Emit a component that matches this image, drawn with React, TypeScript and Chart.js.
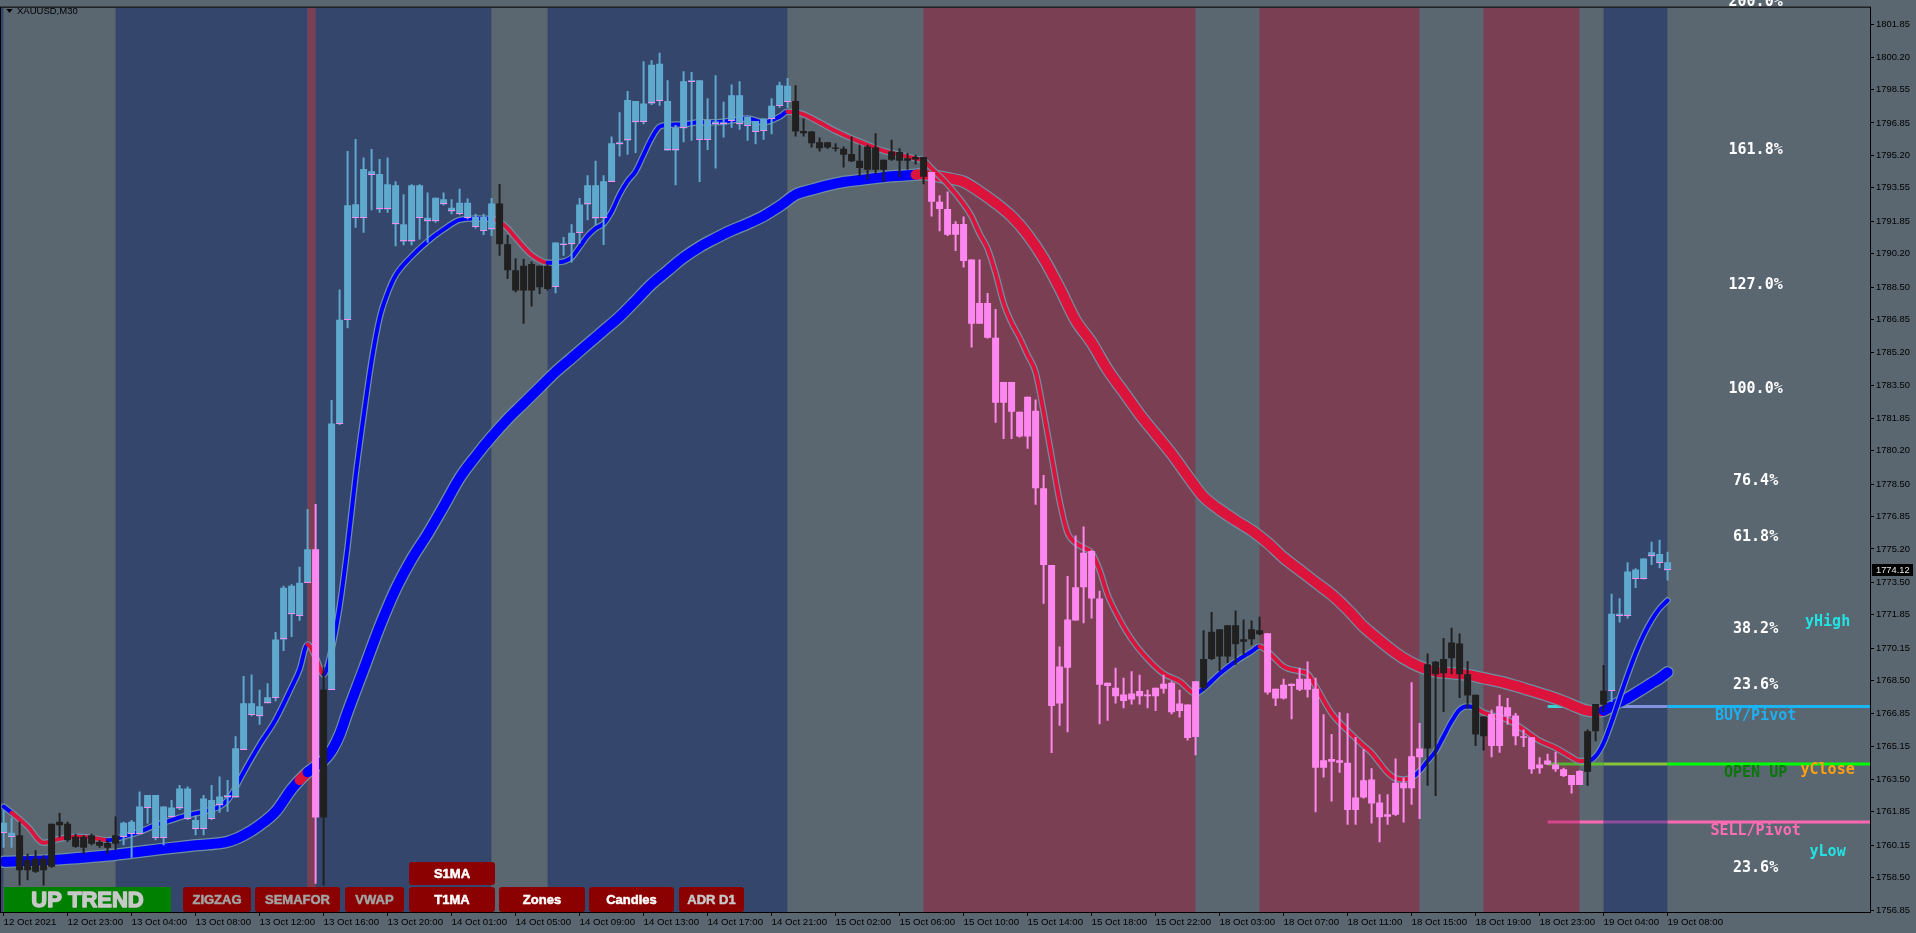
import React, { useEffect, useRef } from "react";
import { Chart, registerables } from "chart.js";

Chart.register(...registerables);

// ---------------- DATA ----------------
const xTickBars = [0, 8, 16, 24, 32, 40, 48, 56, 64, 72, 80, 88, 96, 104, 112, 120, 128, 136, 144, 152, 160, 168, 176, 184, 192, 200, 208];
const xTickLabels = [
  "12 Oct 2021", "12 Oct 23:00", "13 Oct 04:00", "13 Oct 08:00", "13 Oct 12:00", "13 Oct 16:00", "13 Oct 20:00",
  "14 Oct 01:00", "14 Oct 05:00", "14 Oct 09:00", "14 Oct 13:00", "14 Oct 17:00", "14 Oct 21:00",
  "15 Oct 02:00", "15 Oct 06:00", "15 Oct 10:00", "15 Oct 14:00", "15 Oct 18:00", "15 Oct 22:00",
  "18 Oct 03:00", "18 Oct 07:00", "18 Oct 11:00", "18 Oct 15:00", "18 Oct 19:00", "18 Oct 23:00",
  "19 Oct 04:00", "19 Oct 08:00",
];
const yTickValues = [
  1801.85, 1800.2, 1798.55, 1796.85, 1795.2, 1793.55, 1791.85, 1790.2, 1788.5, 1786.85, 1785.2, 1783.5, 1781.85,
  1780.2, 1778.5, 1776.85, 1775.2, 1773.5, 1771.85, 1770.15, 1768.5, 1766.85, 1765.15, 1763.5, 1761.85, 1760.15,
  1758.5, 1756.85,
];

const candleOpen = [
  1760.78, 1760.78, 1760.65, 1758.87, 1759.45, 1758.87, 1759.05, 1761.34, 1761.24, 1760.58,
  1760.02, 1760.65, 1760.32, 1760.02, 1760.22, 1760.58, 1761.34, 1760.73, 1762.06, 1762.69,
  1760.53, 1762.06, 1762.01, 1763.03, 1761.42, 1760.98, 1762.44, 1762.18, 1762.69, 1762.57,
  1764.99, 1767.36, 1766.70, 1767.36, 1767.62, 1770.60, 1773.33, 1771.80, 1773.48, 1775.19,
  1761.55, 1768.05, 1781.57, 1786.85, 1792.72, 1792.03, 1794.40, 1794.25, 1792.46, 1793.69,
  1791.70, 1790.83, 1793.69, 1792.03, 1791.85, 1792.97, 1792.54, 1792.23, 1792.79, 1792.07,
  1791.36, 1792.76, 1792.76, 1790.69, 1789.37, 1788.33, 1789.68, 1788.50, 1789.59, 1788.53,
  1790.72, 1790.69, 1791.27, 1792.71, 1793.68, 1792.03, 1793.85, 1795.77, 1795.96, 1797.96,
  1796.92, 1797.84, 1799.86, 1797.96, 1795.45, 1796.58, 1798.94, 1799.02, 1795.99, 1796.92,
  1796.78, 1796.95, 1798.26, 1796.71, 1796.95, 1796.44, 1797.05, 1797.72, 1798.74, 1797.96,
  1796.44, 1796.41, 1795.87, 1795.60, 1795.60, 1795.54, 1795.27, 1794.93, 1794.47, 1795.60,
  1794.47, 1794.98, 1795.37, 1794.93, 1795.12, 1795.12, 1794.36, 1792.85, 1792.48, 1791.17,
  1791.72, 1789.91, 1786.65, 1787.70, 1785.94, 1782.63, 1783.68, 1782.17, 1780.92, 1782.22,
  1778.28, 1774.38, 1767.35, 1769.16, 1771.57, 1773.25, 1775.09, 1772.68, 1768.23, 1768.15,
  1767.80, 1767.55, 1767.98, 1767.72, 1767.72, 1768.10, 1768.40, 1766.97, 1767.30, 1765.64,
  1768.15, 1769.61, 1771.12, 1769.74, 1771.32, 1770.49, 1770.61, 1771.07, 1770.92, 1768.10,
  1767.60, 1768.23, 1768.05, 1768.60, 1768.10, 1764.08, 1764.38, 1764.46, 1764.33, 1761.94,
  1762.57, 1763.49, 1762.31, 1761.59, 1761.69, 1763.32, 1763.04, 1764.62, 1765.06, 1769.47,
  1768.88, 1769.64, 1770.40, 1768.83, 1767.79, 1765.68, 1766.81, 1765.18, 1767.15, 1766.74,
  1765.68, 1765.63, 1764.05, 1764.25, 1764.25, 1764.00, 1763.71, 1763.21, 1763.88, 1765.93,
  1767.28, 1767.99, 1771.91, 1771.79, 1774.15, 1773.68, 1774.83, 1774.94, 1774.52,
];
const candleHigh = [
  1761.93, 1761.55, 1761.34, 1759.71, 1759.89, 1759.63, 1761.24, 1761.80, 1761.34, 1760.73,
  1760.65, 1760.73, 1760.40, 1760.40, 1761.60, 1761.34, 1761.42, 1762.87, 1762.69, 1762.69,
  1762.11, 1762.44, 1763.20, 1763.13, 1761.67, 1762.69, 1763.20, 1763.64, 1763.46, 1765.68,
  1768.74, 1768.82, 1768.05, 1768.38, 1770.98, 1773.33, 1773.41, 1774.30, 1777.23, 1777.49,
  1769.20, 1782.77, 1788.38, 1795.42, 1796.04, 1795.09, 1795.53, 1795.02, 1795.09, 1793.89,
  1793.23, 1793.74, 1793.74, 1793.31, 1793.05, 1793.31, 1792.97, 1793.51, 1793.01, 1792.23,
  1792.23, 1793.04, 1793.75, 1791.16, 1789.98, 1789.93, 1789.81, 1789.59, 1789.64, 1790.77,
  1791.06, 1791.70, 1793.04, 1794.19, 1794.93, 1794.19, 1796.16, 1797.39, 1798.47, 1797.96,
  1799.98, 1800.03, 1800.42, 1799.02, 1796.75, 1799.48, 1799.44, 1799.02, 1798.10, 1799.27,
  1797.93, 1798.80, 1798.97, 1797.17, 1796.95, 1797.08, 1798.10, 1798.94, 1799.14, 1798.77,
  1797.08, 1796.44, 1796.11, 1795.87, 1795.82, 1795.65, 1796.16, 1795.74, 1795.74, 1796.33,
  1794.98, 1795.99, 1795.57, 1795.32, 1795.24, 1795.12, 1794.36, 1793.18, 1793.36, 1791.85,
  1792.10, 1789.91, 1789.91, 1788.21, 1787.40, 1783.68, 1783.68, 1782.17, 1782.93, 1782.80,
  1778.96, 1774.38, 1770.24, 1773.83, 1775.89, 1776.34, 1775.14, 1773.08, 1768.40, 1769.16,
  1768.65, 1768.98, 1768.81, 1768.05, 1768.15, 1768.81, 1768.48, 1768.05, 1767.30, 1768.48,
  1771.07, 1772.00, 1771.12, 1771.32, 1772.07, 1771.62, 1771.57, 1771.75, 1770.92, 1768.10,
  1768.60, 1768.35, 1769.16, 1769.48, 1768.65, 1766.80, 1765.79, 1766.90, 1766.85, 1765.64,
  1765.04, 1764.05, 1762.73, 1762.73, 1764.55, 1763.58, 1768.43, 1766.35, 1769.89, 1769.50,
  1770.68, 1771.19, 1770.90, 1769.50, 1767.79, 1766.69, 1767.03, 1767.79, 1767.62, 1766.86,
  1766.02, 1765.63, 1764.62, 1764.79, 1764.89, 1764.08, 1763.71, 1763.95, 1766.02, 1767.32,
  1769.30, 1772.92, 1772.70, 1774.52, 1774.22, 1774.72, 1775.57, 1775.67, 1775.06,
];
const candleLow = [
  1760.02, 1760.02, 1758.10, 1758.36, 1758.74, 1758.10, 1759.00, 1760.53, 1760.32, 1760.02,
  1759.71, 1760.14, 1760.02, 1759.71, 1759.89, 1760.14, 1759.51, 1760.73, 1761.24, 1760.40,
  1760.14, 1761.60, 1761.93, 1761.42, 1760.65, 1760.65, 1761.42, 1761.80, 1761.85, 1762.57,
  1764.99, 1766.70, 1766.27, 1767.36, 1767.46, 1770.02, 1770.73, 1771.55, 1773.48, 1758.18,
  1758.10, 1768.05, 1781.50, 1786.42, 1791.52, 1791.27, 1792.41, 1792.29, 1792.29, 1790.58,
  1790.63, 1790.63, 1790.93, 1790.76, 1791.78, 1792.67, 1792.21, 1792.17, 1791.95, 1791.49,
  1791.16, 1791.11, 1790.10, 1788.92, 1788.24, 1786.64, 1787.52, 1788.16, 1788.33, 1788.19,
  1790.10, 1789.76, 1790.72, 1791.90, 1791.66, 1790.65, 1793.85, 1795.15, 1795.23, 1795.32,
  1796.78, 1797.76, 1797.72, 1795.45, 1793.68, 1795.87, 1795.94, 1793.85, 1795.48, 1794.53,
  1796.11, 1796.61, 1796.50, 1795.94, 1795.77, 1795.99, 1796.28, 1797.62, 1797.62, 1796.16,
  1796.16, 1795.60, 1795.40, 1795.54, 1795.40, 1794.59, 1794.86, 1794.14, 1793.97, 1794.26,
  1793.85, 1794.93, 1794.09, 1794.47, 1794.74, 1793.73, 1792.10, 1791.35, 1791.10, 1790.34,
  1789.51, 1785.44, 1786.65, 1785.89, 1781.62, 1780.79, 1780.79, 1780.87, 1780.29, 1777.45,
  1772.42, 1764.83, 1766.22, 1765.89, 1771.57, 1771.42, 1771.67, 1766.29, 1766.47, 1767.35,
  1767.10, 1767.30, 1767.30, 1767.10, 1766.97, 1767.85, 1766.80, 1766.64, 1765.46, 1764.71,
  1767.98, 1769.56, 1768.98, 1769.41, 1769.31, 1769.81, 1770.31, 1770.82, 1767.80, 1767.22,
  1767.55, 1766.54, 1767.98, 1767.65, 1761.82, 1763.58, 1762.37, 1763.83, 1761.19, 1761.19,
  1762.52, 1761.25, 1760.29, 1761.19, 1761.64, 1761.30, 1762.20, 1761.47, 1763.16, 1762.65,
  1766.91, 1768.83, 1767.62, 1767.08, 1765.18, 1764.96, 1764.62, 1764.84, 1766.27, 1765.23,
  1765.13, 1763.78, 1763.78, 1764.22, 1763.88, 1763.61, 1762.77, 1763.21, 1763.16, 1765.43,
  1766.91, 1767.42, 1771.46, 1771.66, 1773.21, 1773.65, 1774.39, 1774.22, 1773.60,
];
const candleClose = [
  1761.29, 1760.58, 1758.87, 1759.38, 1758.79, 1759.45, 1761.24, 1761.16, 1760.40, 1760.07,
  1760.58, 1760.22, 1760.12, 1760.27, 1760.65, 1761.29, 1760.73, 1762.11, 1762.69, 1760.53,
  1762.11, 1761.60, 1763.03, 1761.49, 1760.98, 1762.52, 1761.49, 1762.62, 1762.57, 1765.07,
  1767.36, 1766.78, 1767.21, 1767.67, 1770.60, 1773.23, 1771.88, 1773.48, 1775.19, 1761.55,
  1768.05, 1781.57, 1786.85, 1792.67, 1792.03, 1794.51, 1794.20, 1792.46, 1793.74, 1791.70,
  1790.83, 1793.69, 1792.03, 1791.85, 1793.05, 1792.72, 1792.36, 1792.79, 1792.03, 1791.56,
  1792.07, 1791.44, 1790.69, 1789.37, 1788.33, 1789.59, 1788.33, 1789.59, 1788.41, 1790.77,
  1790.65, 1791.27, 1792.71, 1793.68, 1792.00, 1793.89, 1795.82, 1795.87, 1798.01, 1796.88,
  1797.84, 1799.81, 1797.96, 1795.45, 1796.61, 1798.97, 1799.02, 1795.99, 1797.00, 1796.78,
  1796.88, 1798.26, 1796.78, 1797.17, 1796.41, 1797.08, 1797.72, 1798.77, 1797.93, 1796.41,
  1796.33, 1795.82, 1795.57, 1795.87, 1795.54, 1795.23, 1794.90, 1794.56, 1795.65, 1794.47,
  1794.98, 1795.40, 1794.93, 1795.06, 1794.99, 1794.11, 1792.85, 1792.48, 1791.17, 1791.72,
  1789.84, 1786.65, 1787.70, 1785.94, 1782.63, 1783.68, 1782.17, 1780.92, 1782.93, 1778.28,
  1774.38, 1767.22, 1769.23, 1771.62, 1773.25, 1775.01, 1772.68, 1768.30, 1768.40, 1767.72,
  1767.47, 1767.85, 1767.72, 1767.80, 1768.15, 1768.35, 1766.90, 1767.35, 1765.59, 1768.48,
  1769.61, 1770.99, 1769.74, 1771.32, 1770.36, 1770.61, 1771.12, 1770.87, 1767.90, 1767.60,
  1768.30, 1768.35, 1768.60, 1768.05, 1764.08, 1764.46, 1764.53, 1764.33, 1761.94, 1762.57,
  1763.45, 1762.26, 1761.56, 1761.72, 1763.32, 1763.04, 1764.67, 1765.06, 1769.34, 1768.83,
  1769.61, 1770.45, 1768.83, 1767.75, 1765.77, 1766.69, 1765.18, 1767.20, 1766.69, 1765.68,
  1765.60, 1764.00, 1764.25, 1764.45, 1764.00, 1763.66, 1763.21, 1763.91, 1765.93, 1767.32,
  1767.99, 1771.91, 1771.79, 1774.05, 1773.68, 1774.72, 1775.03, 1774.49, 1774.12,
];
// candle colouring by bar range: b = up (blue), k = flat (black), p = down (pink)
const candleKindRanges: [number, number, string][] = [
  [0, 1, "b"], [2, 14, "k"], [15, 38, "b"], [39, 39, "p"], [40, 40, "k"], [41, 61, "b"], [62, 68, "k"],
  [69, 98, "b"], [99, 115, "k"], [116, 149, "p"], [150, 157, "k"], [158, 177, "p"], [178, 185, "k"],
  [186, 197, "p"], [198, 200, "k"], [201, 208, "b"],
];

// fast moving average (thin)
const fastBars = [
  0, 1, 3, 5, 7, 9, 11, 13, 15, 17, 19, 21, 23, 25, 27, 28, 29, 30, 32, 34, 36, 37, 38, 39, 40, 41, 42, 43, 44, 45,
  46, 47, 48, 49, 51, 53, 55, 57, 59, 61, 62, 63, 64, 65, 66, 67, 68, 69, 70, 71, 72, 73, 74, 75, 76, 77, 78, 79, 80,
  81, 82, 83, 85, 87, 89, 91, 93, 95, 97, 98, 99, 100, 102, 104, 106, 108, 110, 112, 114, 115, 116, 118, 120, 121,
  122, 123, 124, 125, 126, 127, 128, 129, 130, 131, 132, 133, 134, 135, 136, 137, 138, 139, 141, 143, 145, 147, 149,
  150, 152, 154, 156, 157, 158, 160, 162, 163, 164, 166, 168, 170, 171, 172, 173, 174, 175, 176, 177, 178, 179, 180,
  181, 182, 183, 184, 185, 186, 188, 190, 192, 194, 196, 197, 198, 199, 200, 201, 202, 203, 204, 205, 206, 207, 208,
];
const fastVals = [
  1762.10, 1761.80, 1761.10, 1760.27, 1760.47, 1760.58, 1760.53, 1760.40, 1760.58, 1760.83, 1761.16, 1761.42,
  1761.67, 1761.85, 1762.11, 1762.44, 1763.08, 1763.84, 1765.25, 1766.52, 1768.18, 1769.07, 1770.35, 1769.71,
  1768.82, 1770.09, 1772.26, 1775.32, 1778.89, 1781.95, 1784.76, 1786.93, 1788.20, 1789.10, 1790.07, 1790.83,
  1791.44, 1791.92, 1792.00, 1791.98, 1791.83, 1791.49, 1791.02, 1790.55, 1790.15, 1789.88, 1789.74, 1789.76,
  1789.81, 1790.01, 1790.55, 1791.11, 1791.49, 1791.73, 1792.34, 1793.21, 1793.89, 1794.39, 1795.23, 1796.07,
  1796.66, 1796.75, 1796.78, 1796.88, 1796.88, 1796.97, 1797.08, 1796.88, 1797.17, 1797.42, 1797.39, 1797.29,
  1796.88, 1796.44, 1796.07, 1795.74, 1795.43, 1795.23, 1795.04, 1794.94, 1794.54, 1793.73, 1792.73, 1792.10,
  1791.22, 1790.47, 1789.21, 1787.70, 1786.70, 1785.94, 1785.06, 1784.19, 1782.17, 1779.91, 1777.65, 1776.02,
  1775.51, 1775.26, 1775.01, 1774.13, 1772.88, 1772.00, 1770.61, 1769.61, 1768.86, 1768.48, 1767.85, 1768.10,
  1768.86, 1769.48, 1769.99, 1770.24, 1769.99, 1769.23, 1768.98, 1768.86, 1768.23, 1766.85, 1765.97, 1765.20,
  1764.84, 1764.33, 1763.83, 1763.54, 1763.49, 1763.58, 1763.91, 1764.42, 1764.92, 1765.68, 1766.44, 1767.03,
  1767.20, 1767.11, 1766.89, 1766.74, 1766.52, 1766.02, 1765.46, 1765.09, 1764.62, 1764.42, 1764.42, 1764.67,
  1765.34, 1766.41, 1767.62, 1768.80, 1769.89, 1770.82, 1771.58, 1772.17, 1772.59,
];
const fastDownRanges = [[0.6, 13.9], [38, 40.4], [61.4, 68.4], [98, 149.2], [157.4, 176.4], [184.4, 197.6]];

// slow moving average (thick)
const slowBars = [
  0, 4, 8, 12, 16, 20, 24, 28, 30, 32, 34, 36, 37, 38, 39, 40, 41, 42, 43, 45, 47, 49, 51, 53, 55, 57, 59, 61, 63,
  65, 67, 69, 71, 73, 75, 77, 79, 81, 83, 85, 87, 89, 91, 93, 95, 97, 99, 101, 103, 105, 107, 109, 111, 113, 114,
  115, 116, 118, 120, 122, 124, 126, 128, 130, 132, 134, 136, 138, 140, 142, 144, 146, 148, 150, 152, 154, 156,
  158, 160, 162, 164, 166, 168, 170, 171, 173, 175, 177, 179, 181, 183, 185, 187, 189, 191, 193, 195, 197, 198,
  199, 200, 201, 202, 203, 204, 205, 206, 207, 208,
];
const slowVals = [
  1759.30, 1759.35, 1759.45, 1759.58, 1759.76, 1759.96, 1760.14, 1760.32, 1760.65, 1761.16, 1761.85, 1763.00,
  1763.45, 1763.85, 1764.15, 1764.45, 1764.95, 1765.76, 1766.91, 1769.07, 1771.24, 1773.15, 1774.68, 1775.96,
  1777.36, 1778.80, 1779.90, 1780.90, 1781.80, 1782.60, 1783.40, 1784.20, 1784.90, 1785.60, 1786.30, 1787.00,
  1787.82, 1788.66, 1789.34, 1790.01, 1790.55, 1790.99, 1791.39, 1791.73, 1792.12, 1792.62, 1793.21, 1793.46,
  1793.68, 1793.85, 1793.95, 1794.05, 1794.14, 1794.19, 1794.22, 1794.24, 1794.19, 1794.04, 1793.86, 1793.36,
  1792.78, 1792.10, 1791.17, 1789.96, 1788.46, 1786.82, 1785.69, 1784.31, 1783.18, 1782.05, 1781.04, 1780.04,
  1778.91, 1777.85, 1777.20, 1776.65, 1776.14, 1775.51, 1774.76, 1774.13, 1773.50, 1772.88, 1772.12, 1771.25,
  1770.90, 1770.23, 1769.64, 1769.22, 1768.97, 1768.88, 1768.80, 1768.63, 1768.46, 1768.24, 1767.99, 1767.74,
  1767.45, 1767.11, 1766.98, 1766.94, 1766.98, 1767.20, 1767.42, 1767.62, 1767.87, 1768.12, 1768.38, 1768.63,
  1768.93,
];
const slowDownRanges = [[37.2, 38.2], [114.4, 200.2]];

// background trend zones (bar ranges)
const bandFrom = [-2, 0, 14, 38, 39, 61, 68, 98, 115, 149, 157, 177, 185, 197, 200, 208];
const bandTo = [0, 14, 38, 39, 61, 68, 98, 115, 149, 157, 177, 185, 197, 200, 208, 240];
const bandKind = ["up", "flat", "up", "down", "up", "flat", "up", "flat", "down", "flat", "down", "flat", "down", "flat", "up", "flat"];

// pivot lines
const pivotBreaks = [193, 197, 200, 208, 233.3];
const buyPivot = 1767.19;
const openLevel = 1764.27;
const sellPivot = 1761.33;
const buyColors = ["#3ccfd2", "#19b5f5", "#8091de", "#19b5f5"];
const openColors = ["#54b432", "#5cc030", "#88c43a", "#00ff00"];
const sellColors = ["#d4458e", "#ff69b4", "#8e4c9d", "#ff69b4"];

// fibonacci levels
const fibLow = 1763.62;
const fibHigh = 1783.31;
const fibLevels = [200, 161.8, 127, 100, 76.4, 61.8, 38.2, 23.6, -23.6];
const fibLabels = ["200.0%", "161.8%", "127.0%", "100.0%", "76.4%", "61.8%", "38.2%", "23.6%", "23.6%"];

// text markers
const markerTexts = ["yHigh", "BUY/Pivot", "OPEN UP", "yClose", "SELL/Pivot", "yLow"];
const markerPrices = [1771.5, 1766.7, 1763.82, 1763.97, 1760.84, 1759.78];
const markerBars = [228, 219, 219, 228, 219, 228];
const markerColors = ["#22e3e3", "#1eb0f0", "#0a760a", "#ffa010", "#ff6db6", "#22e3e3"];

const buttonLabels = ["UP TREND", "ZIGZAG", "SEMAFOR", "VWAP", "S1MA", "T1MA", "Zones", "Candles", "ADR D1"];

// ---------------- STYLE ----------------
const GRAY = "#5a6670";
const BAND_COLORS: Record<string, string> = { up: "#34466b", down: "#7a3f52", flat: "#5a6670" };
const CANDLE_COLORS: Record<string, string> = { b: "#5fa8ce", k: "#202020", p: "#ff88f0" };
const MA_BLUE = "#0000ff";
const MA_RED = "#dc143c";
const MA_EDGE = "#6f8ea3";
const SANS = "'Liberation Sans', Arial, sans-serif";
const MONO = "'DejaVu Sans Mono', monospace";

const inRanges = (ranges: number[][], v: number) => ranges.some(([a, b]) => v >= a && v <= b);

export default function App() {
  const ref = useRef<HTMLCanvasElement>(null);

  useEffect(() => {
    document.body.style.margin = "0";
    const canvas = ref.current!;
    const idx = candleOpen.map((_, i) => i);
    const kinds = idx.map((i) => {
      const r = candleKindRanges.find(([a, b]) => i >= a && i <= b);
      return r ? r[2] : "k";
    });
    const cColors = kinds.map((k) => CANDLE_COLORS[k]);

    const pivotDataset = (level: number, colors: string[]) => ({
      type: "line" as const,
      data: pivotBreaks.map((b) => ({ x: b, y: level })),
      borderWidth: 3,
      borderColor: colors[0],
      segment: { borderColor: (c: any) => colors[c.p0DataIndex] },
      pointRadius: 0,
      order: 7,
    });

    const plugin = {
      id: "mt4",
      beforeDraw(chart: any) {
        const { ctx, width, height } = chart;
        ctx.save();
        ctx.fillStyle = GRAY;
        ctx.fillRect(0, 0, width, height);
        ctx.restore();
      },
      beforeDatasetsDraw(chart: any) {
        const { ctx, chartArea: a } = chart;
        const xs = chart.scales.x;
        ctx.save();
        ctx.beginPath();
        ctx.rect(a.left, a.top, a.right - a.left, a.bottom - a.top);
        ctx.clip();
        bandFrom.forEach((f, i) => {
          const x0 = xs.getPixelForValue(f);
          const x1 = xs.getPixelForValue(bandTo[i]);
          ctx.fillStyle = BAND_COLORS[bandKind[i]];
          ctx.fillRect(x0, a.top, x1 - x0, a.bottom - a.top);
        });
        ctx.restore();
      },
      afterDatasetsDraw(chart: any) {
        const { ctx, chartArea: a } = chart;
        const xs = chart.scales.x;
        const ys = chart.scales.y;
        ctx.save();
        // pink open marks on blue candles
        ctx.fillStyle = "#ff88f0";
        idx.forEach((i) => {
          if (kinds[i] !== "b") return;
          const lo = Math.min(candleOpen[i], candleClose[i]);
          const px = xs.getPixelForValue(i);
          const py = Math.round(ys.getPixelForValue(lo));
          ctx.fillRect(px - 3.5, py - 1, 7, 1);
        });
        // fib labels
        ctx.font = `bold 15px ${MONO}`;
        ctx.textAlign = "center";
        ctx.textBaseline = "middle";
        ctx.fillStyle = "#ffffff";
        fibLevels.forEach((lv, i) => {
          const price = fibLow + (lv / 100) * (fibHigh - fibLow);
          ctx.fillText(fibLabels[i], xs.getPixelForValue(219), ys.getPixelForValue(price));
        });
        markerTexts.forEach((t, i) => {
          ctx.fillStyle = markerColors[i];
          ctx.fillText(t, xs.getPixelForValue(markerBars[i]), ys.getPixelForValue(markerPrices[i]));
        });
        // frame
        ctx.strokeStyle = "#000";
        ctx.lineWidth = 1;
        ctx.strokeRect(a.left - 0.5, a.top - 0.5, a.right - a.left + 1, a.bottom - a.top + 1);
        ctx.restore();
      },
      afterDraw(chart: any) {
        const { ctx } = chart;
        const ys = chart.scales.y;
        ctx.save();
        // symbol caption
        ctx.fillStyle = "#000";
        ctx.beginPath();
        ctx.moveTo(6.5, 9);
        ctx.lineTo(12.5, 9);
        ctx.lineTo(9.5, 13);
        ctx.closePath();
        ctx.fill();
        ctx.font = `9.5px ${SANS}`;
        ctx.textAlign = "left";
        ctx.textBaseline = "middle";
        ctx.fillText("XAUUSD,M30", 17, 11.5);
        // current price box
        const last = candleClose[candleClose.length - 1];
        const py = Math.round(ys.getPixelForValue(last));
        ctx.fillStyle = "#000";
        ctx.fillRect(1872, py - 6, 41, 12);
        ctx.fillStyle = "#e6e6e6";
        ctx.font = `9.3px ${SANS}`;
        ctx.fillText(last.toFixed(2), 1876, py + 0.5);
        // buttons
        const boxes = [
          [4, 171, 887, 912, "#008000", "#c8c8c8", 22],
          [183, 251, 887, 912, "#8b0000", "#a3a3a3", 13],
          [255, 340, 887, 912, "#8b0000", "#a3a3a3", 13],
          [345, 404, 887, 912, "#8b0000", "#a3a3a3", 13],
          [409, 495, 862, 885, "#8b0000", "#ffffff", 13],
          [409, 495, 887, 912, "#8b0000", "#ffffff", 13],
          [499, 585, 887, 912, "#8b0000", "#ffffff", 13],
          [589, 674, 887, 912, "#8b0000", "#ffffff", 13],
          [679, 744, 887, 912, "#8b0000", "#c8c8c8", 13],
        ] as [number, number, number, number, string, string, number][];
        boxes.forEach(([x0, x1, y0, y1, bg, fg, size], i) => {
          ctx.fillStyle = bg;
          ctx.beginPath();
          (ctx as any).roundRect(x0, y0, x1 - x0, y1 - y0, i === 0 ? 0 : 3);
          ctx.fill();
          ctx.fillStyle = fg;
          ctx.strokeStyle = fg;
          ctx.lineWidth = i === 0 ? 1.4 : 0.5;
          ctx.lineJoin = "round";
          ctx.font = `bold ${size}px ${SANS}`;
          ctx.textAlign = "center";
          ctx.textBaseline = "middle";
          const tx = (x0 + x1) / 2;
          const ty = (y0 + y1) / 2 + 1;
          ctx.fillText(buttonLabels[i], tx, ty);
          ctx.strokeText(buttonLabels[i], tx, ty);
        });
        ctx.restore();
      },
    };

    const chart = new Chart(canvas, {
      type: "bar",
      data: {
        datasets: [
          {
            type: "bar",
            data: idx.map((i) => ({ x: i, y: [candleOpen[i], candleClose[i]] })) as any,
            backgroundColor: cColors,
            barThickness: 7,
            minBarLength: 1,
            grouped: false,
            borderWidth: 0,
            inflateAmount: 0,
            order: 1,
          } as any,
          {
            type: "bar",
            data: idx.map((i) => ({ x: i, y: [candleLow[i], candleHigh[i]] })) as any,
            backgroundColor: cColors,
            barThickness: 2,
            grouped: false,
            borderWidth: 0,
            inflateAmount: 0,
            order: 2,
          } as any,
          {
            type: "line",
            data: fastBars.map((b, i) => ({ x: b, y: fastVals[i] })),
            borderWidth: 4,
            borderColor: MA_BLUE,
            segment: {
              borderColor: (c: any) => (inRanges(fastDownRanges, (c.p0.parsed.x + c.p1.parsed.x) / 2) ? MA_RED : MA_BLUE),
            },
            pointRadius: 0,
            cubicInterpolationMode: "monotone",
            borderCapStyle: "round",
            borderJoinStyle: "round",
            order: 3,
          } as any,
          {
            type: "line",
            data: fastBars.map((b, i) => ({ x: b, y: fastVals[i] })),
            borderWidth: 6.5,
            borderColor: MA_EDGE,
            pointRadius: 0,
            cubicInterpolationMode: "monotone",
            borderCapStyle: "round",
            borderJoinStyle: "round",
            order: 4,
          } as any,
          {
            type: "line",
            data: slowBars.map((b, i) => ({ x: b, y: slowVals[i] })),
            borderWidth: 10,
            borderColor: MA_BLUE,
            segment: {
              borderColor: (c: any) => (inRanges(slowDownRanges, (c.p0.parsed.x + c.p1.parsed.x) / 2) ? MA_RED : MA_BLUE),
            },
            pointRadius: 0,
            cubicInterpolationMode: "monotone",
            borderCapStyle: "round",
            borderJoinStyle: "round",
            order: 5,
          } as any,
          {
            type: "line",
            data: slowBars.map((b, i) => ({ x: b, y: slowVals[i] })),
            borderWidth: 12.5,
            borderColor: MA_EDGE,
            pointRadius: 0,
            cubicInterpolationMode: "monotone",
            borderCapStyle: "round",
            borderJoinStyle: "round",
            order: 6,
          } as any,
          pivotDataset(buyPivot, buyColors) as any,
          pivotDataset(openLevel, openColors) as any,
          pivotDataset(sellPivot, sellColors) as any,
        ],
      },
      options: {
        animation: false,
        responsive: false,
        maintainAspectRatio: false,
        devicePixelRatio: 1,
        events: [],
        layout: { padding: { left: 1, top: 2, right: 0, bottom: 0 } },
        plugins: { legend: { display: false }, tooltip: { enabled: false } },
        scales: {
          x: {
            type: "linear",
            position: "bottom",
            min: -0.325,
            max: 233.3,
            offset: false,
            afterFit: (s: any) => {
              s.height = 21;
            },
            afterBuildTicks: (s: any) => {
              s.ticks = xTickBars.map((v) => ({ value: v }));
            },
            ticks: {
              autoSkip: false,
              maxRotation: 0,
              minRotation: 0,
              align: "start",
              padding: 1,
              color: "#000",
              font: { family: SANS, size: 9.7 },
              callback: (v: any) => {
                const k = xTickBars.indexOf(Number(v));
                return k >= 0 ? xTickLabels[k] : "";
              },
            },
            grid: { drawOnChartArea: false, drawTicks: true, tickLength: 4, color: "#000", offset: false },
            border: { display: true, color: "#000" },
          } as any,
          y: {
            type: "linear",
            position: "right",
            min: 1756.75,
            max: 1802.71,
            afterFit: (s: any) => {
              s.width = 46;
            },
            afterBuildTicks: (s: any) => {
              s.ticks = yTickValues.map((v) => ({ value: v }));
            },
            ticks: {
              padding: 2,
              color: "#000",
              font: { family: SANS, size: 9.4 },
              callback: (v: any) => Number(v).toFixed(2),
            },
            grid: { drawOnChartArea: false, drawTicks: true, tickLength: 4, color: "#000" },
            border: { display: true, color: "#000" },
          } as any,
        },
      },
      plugins: [plugin],
    } as any);

    return () => chart.destroy();
  }, []);

  return (
    <div style={{ width: 1916, height: 933 }}>
      <canvas ref={ref} width={1916} height={933} style={{ display: "block", width: 1916, height: 933 }} />
    </div>
  );
}
